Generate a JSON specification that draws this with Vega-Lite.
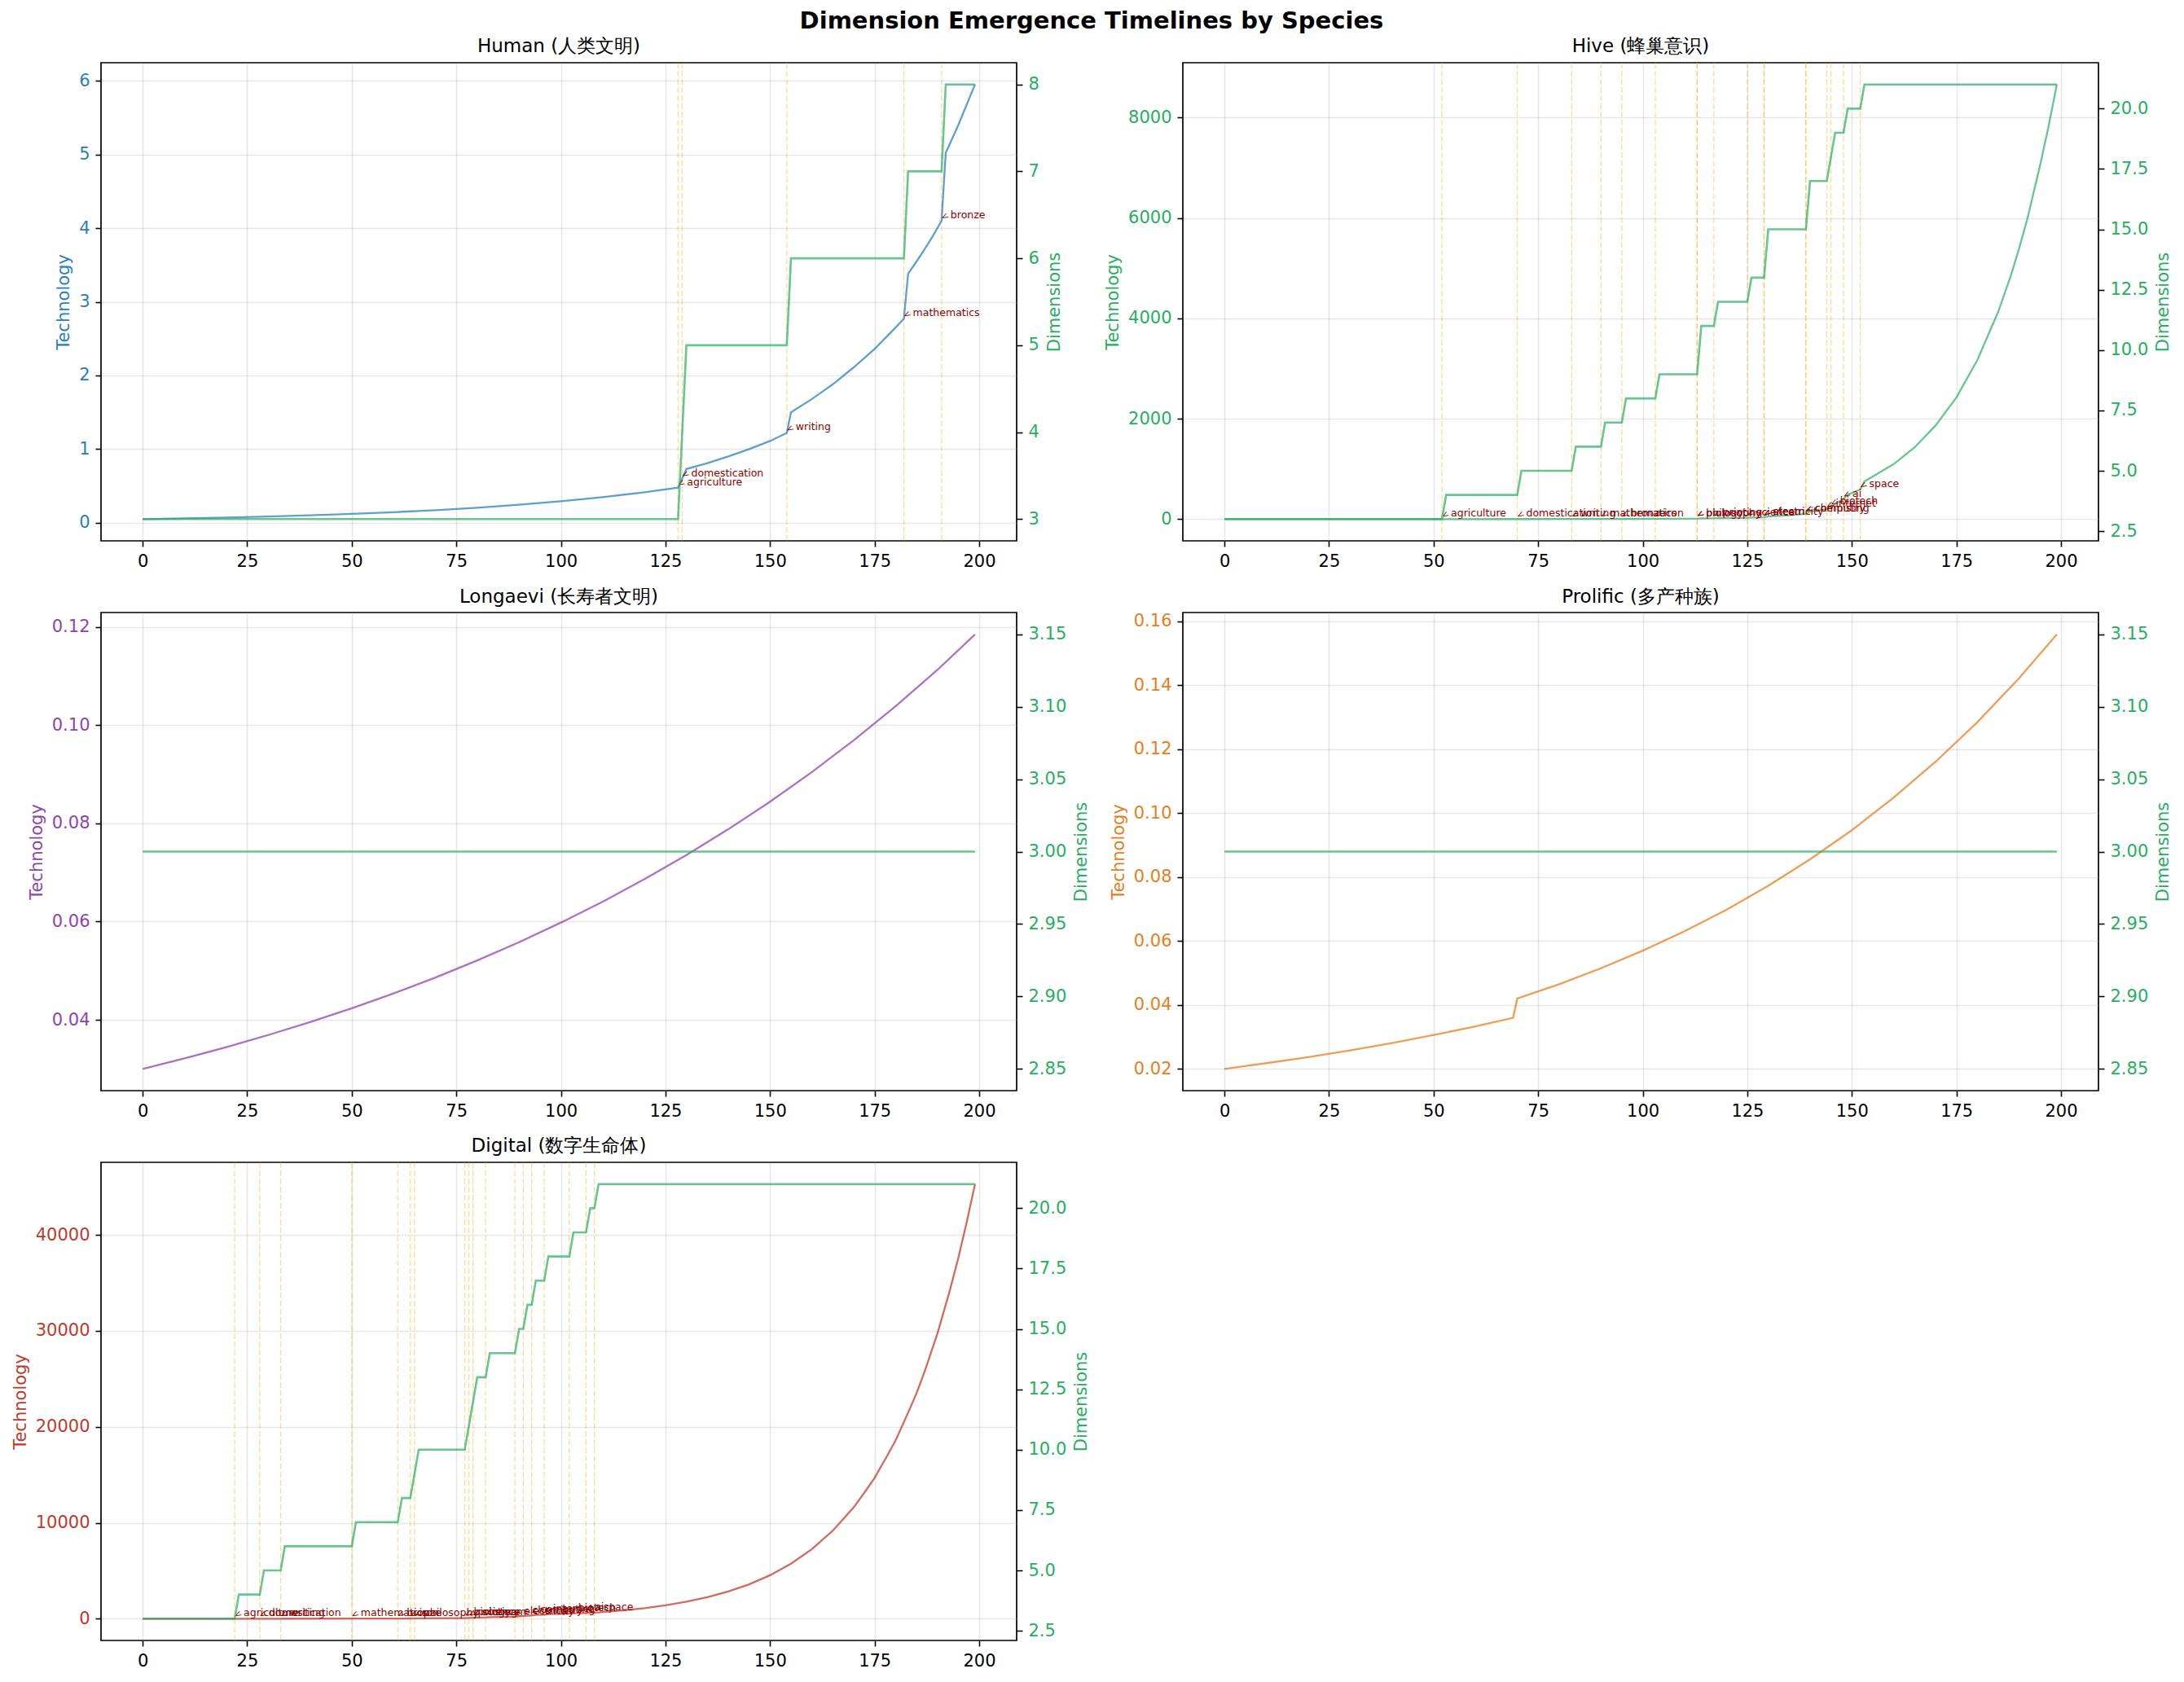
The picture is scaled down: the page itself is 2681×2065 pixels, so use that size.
{
"$schema":"https://vega.github.io/schema/vega-lite/v6.json",
"background":"white",
"padding":{"left":13,"top":11,"right":0,"bottom":0},
"title":{"text":"Dimension Emergence Timelines by Species","fontSize":29,"fontWeight":"bold","anchor":"middle","offset":5,"font":"DejaVu Sans","color":"#000"},
"config":{
 "font":"DejaVu Sans",
 "view":{"stroke":"#000","strokeWidth":1.7},
 "axis":{"labelFontSize":21,"titleFontSize":21,"titleFontWeight":"normal","tickSize":7,"tickWidth":1.6,"tickColor":"#000","labelPadding":7,"titlePadding":8,"domain":false,"gridColor":"#b0b0b0","gridOpacity":0.3,"gridWidth":1.6,"labelColor":"#000","titleColor":"#000","labelFont":"DejaVu Sans","titleFont":"DejaVu Sans","labelOverlap":false},
 "title":{"fontSize":23,"fontWeight":"normal","font":"DejaVu Sans","color":"#000","baseline":"alphabetic","offset":7}
},
"datasets":{
 "human_tech":[{"t":0,"tech":0.050},{"t":10,"tech":0.060},{"t":20,"tech":0.071},{"t":30,"tech":0.085},{"t":40,"tech":0.101},{"t":50,"tech":0.121},{"t":60,"tech":0.144},{"t":70,"tech":0.172},{"t":80,"tech":0.205},{"t":90,"tech":0.245},{"t":100,"tech":0.292},{"t":110,"tech":0.348},{"t":120,"tech":0.415},{"t":128,"tech":0.478},{"t":129,"tech":0.60},{"t":130,"tech":0.73},{"t":135,"tech":0.81},{"t":140,"tech":0.90},{"t":145,"tech":1.00},{"t":150,"tech":1.11},{"t":154,"tech":1.22},{"t":155,"tech":1.50},{"t":160,"tech":1.68},{"t":165,"tech":1.88},{"t":170,"tech":2.11},{"t":175,"tech":2.36},{"t":180,"tech":2.65},{"t":182,"tech":2.77},{"t":183,"tech":3.38},{"t":186,"tech":3.63},{"t":189,"tech":3.90},{"t":191,"tech":4.10},{"t":192,"tech":5.02},{"t":195,"tech":5.40},{"t":199,"tech":5.95}],
 "human_dims":[{"t":0,"dim":3},{"t":128,"dim":3},{"t":129,"dim":4},{"t":130,"dim":5},{"t":154,"dim":5},{"t":155,"dim":6},{"t":182,"dim":6},{"t":183,"dim":7},{"t":191,"dim":7},{"t":192,"dim":8},{"t":199,"dim":8}],
 "human_events":[{"t":128,"tech":0.478,"event":"agriculture"},{"t":129,"tech":0.60,"event":"domestication"},{"t":154,"tech":1.22,"event":"writing"},{"t":182,"tech":2.77,"event":"mathematics"},{"t":191,"tech":4.10,"event":"bronze"}],
 "hive_tech":[{"t":0,"tech":0.05},{"t":25,"tech":0.12},{"t":52,"tech":0.35},{"t":53,"tech":0.45},{"t":70,"tech":0.8},{"t":71,"tech":1.0},{"t":83,"tech":1.7},{"t":84,"tech":2.1},{"t":90,"tech":2.8},{"t":91,"tech":3.5},{"t":95,"tech":4.2},{"t":96,"tech":5.2},{"t":103,"tech":7.0},{"t":104,"tech":8.7},{"t":113,"tech":12},{"t":114,"tech":16},{"t":117,"tech":18},{"t":118,"tech":21},{"t":125,"tech":27},{"t":126,"tech":31},{"t":129,"tech":35},{"t":130,"tech":52},{"t":135,"tech":75},{"t":139,"tech":105},{"t":140,"tech":150},{"t":142,"tech":170},{"t":144,"tech":200},{"t":145,"tech":245},{"t":146,"tech":300},{"t":148,"tech":400},{"t":149,"tech":490},{"t":150,"tech":520},{"t":152,"tech":590},{"t":153,"tech":750},{"t":155,"tech":850},{"t":160,"tech":1095},{"t":165,"tech":1430},{"t":170,"tech":1865},{"t":175,"tech":2425},{"t":180,"tech":3170},{"t":185,"tech":4135},{"t":188,"tech":4850},{"t":190,"tech":5400},{"t":192,"tech":6000},{"t":195,"tech":7050},{"t":197,"tech":7820},{"t":199,"tech":8660}],
 "hive_dims":[{"t":0,"dim":3},{"t":52,"dim":3},{"t":53,"dim":4},{"t":70,"dim":4},{"t":71,"dim":5},{"t":83,"dim":5},{"t":84,"dim":6},{"t":90,"dim":6},{"t":91,"dim":7},{"t":95,"dim":7},{"t":96,"dim":8},{"t":103,"dim":8},{"t":104,"dim":9},{"t":113,"dim":9},{"t":114,"dim":11},{"t":117,"dim":11},{"t":118,"dim":12},{"t":125,"dim":12},{"t":126,"dim":13},{"t":129,"dim":13},{"t":130,"dim":15},{"t":139,"dim":15},{"t":140,"dim":17},{"t":144,"dim":17},{"t":145,"dim":18},{"t":146,"dim":19},{"t":148,"dim":19},{"t":149,"dim":20},{"t":152,"dim":20},{"t":153,"dim":21},{"t":199,"dim":21}],
 "hive_events":[{"t":52,"tech":0.35,"event":"agriculture"},{"t":70,"tech":0.8,"event":"domestication"},{"t":83,"tech":1.7,"event":"writing"},{"t":90,"tech":2.8,"event":"mathematics"},{"t":95,"tech":4.2,"event":"bronze"},{"t":103,"tech":7.0,"event":"iron"},{"t":113,"tech":12,"event":"philosophy"},{"t":113,"tech":12,"event":"biology"},{"t":117,"tech":18,"event":"printing"},{"t":125,"tech":27,"event":"science"},{"t":129,"tech":35,"event":"steam"},{"t":129,"tech":35,"event":"electricity"},{"t":139,"tech":105,"event":"chemistry"},{"t":139,"tech":105,"event":"computing"},{"t":144,"tech":200,"event":"internet"},{"t":145,"tech":245,"event":"biotech"},{"t":148,"tech":400,"event":"ai"},{"t":152,"tech":590,"event":"space"}],
 "longaevi_tech":[{"t":0,"tech":0.0300},{"t":10,"tech":0.03214},{"t":20,"tech":0.03444},{"t":30,"tech":0.03690},{"t":40,"tech":0.03953},{"t":50,"tech":0.04235},{"t":60,"tech":0.04538},{"t":70,"tech":0.04862},{"t":80,"tech":0.05209},{"t":90,"tech":0.05581},{"t":100,"tech":0.05980},{"t":110,"tech":0.06407},{"t":120,"tech":0.06864},{"t":130,"tech":0.07354},{"t":140,"tech":0.07880},{"t":150,"tech":0.08442},{"t":160,"tech":0.09045},{"t":170,"tech":0.09691},{"t":180,"tech":0.10383},{"t":190,"tech":0.11124},{"t":199,"tech":0.11846}],
 "flat_dims":[{"t":0,"dim":3},{"t":199,"dim":3}],
 "prolific_tech":[{"t":0,"tech":0.0200},{"t":10,"tech":0.0218},{"t":20,"tech":0.0237},{"t":30,"tech":0.0258},{"t":40,"tech":0.0281},{"t":50,"tech":0.0306},{"t":60,"tech":0.0333},{"t":69,"tech":0.0360},{"t":70,"tech":0.0420},{"t":80,"tech":0.0465},{"t":90,"tech":0.0515},{"t":100,"tech":0.0570},{"t":110,"tech":0.0631},{"t":120,"tech":0.0698},{"t":130,"tech":0.0773},{"t":140,"tech":0.0856},{"t":150,"tech":0.0947},{"t":160,"tech":0.1049},{"t":170,"tech":0.1161},{"t":180,"tech":0.1285},{"t":190,"tech":0.1423},{"t":199,"tech":0.1560}],
 "digital_tech":[{"t":0,"tech":0.2},{"t":22,"tech":1.0},{"t":23,"tech":1.3},{"t":28,"tech":2.0},{"t":29,"tech":2.6},{"t":33,"tech":3.3},{"t":34,"tech":4.3},{"t":50,"tech":9},{"t":51,"tech":11.5},{"t":61,"tech":19},{"t":62,"tech":24},{"t":64,"tech":27},{"t":65,"tech":34},{"t":66,"tech":43},{"t":77,"tech":70},{"t":78,"tech":85},{"t":79,"tech":105},{"t":80,"tech":125},{"t":82,"tech":140},{"t":83,"tech":170},{"t":89,"tech":215},{"t":90,"tech":260},{"t":91,"tech":270},{"t":92,"tech":325},{"t":93,"tech":335},{"t":94,"tech":400},{"t":96,"tech":420},{"t":97,"tech":490},{"t":102,"tech":520},{"t":103,"tech":575},{"t":106,"tech":595},{"t":107,"tech":620},{"t":108,"tech":630},{"t":109,"tech":660},{"t":110,"tech":692},{"t":115,"tech":875},{"t":120,"tech":1107},{"t":125,"tech":1400},{"t":130,"tech":1771},{"t":135,"tech":2240},{"t":140,"tech":2833},{"t":145,"tech":3584},{"t":150,"tech":4534},{"t":155,"tech":5735},{"t":160,"tech":7254},{"t":165,"tech":9176},{"t":170,"tech":11607},{"t":173,"tech":13420},{"t":175,"tech":14682},{"t":178,"tech":16980},{"t":180,"tech":18571},{"t":183,"tech":21470},{"t":185,"tech":23491},{"t":187,"tech":25820},{"t":190,"tech":29714},{"t":193,"tech":34250},{"t":195,"tech":37586},{"t":197,"tech":41310},{"t":199,"tech":45300}],
 "digital_dims":[{"t":0,"dim":3},{"t":22,"dim":3},{"t":23,"dim":4},{"t":28,"dim":4},{"t":29,"dim":5},{"t":33,"dim":5},{"t":34,"dim":6},{"t":50,"dim":6},{"t":51,"dim":7},{"t":61,"dim":7},{"t":62,"dim":8},{"t":64,"dim":8},{"t":65,"dim":9},{"t":66,"dim":10},{"t":77,"dim":10},{"t":78,"dim":11},{"t":79,"dim":12},{"t":80,"dim":13},{"t":82,"dim":13},{"t":83,"dim":14},{"t":89,"dim":14},{"t":90,"dim":15},{"t":91,"dim":15},{"t":92,"dim":16},{"t":93,"dim":16},{"t":94,"dim":17},{"t":96,"dim":17},{"t":97,"dim":18},{"t":102,"dim":18},{"t":103,"dim":19},{"t":106,"dim":19},{"t":107,"dim":20},{"t":108,"dim":20},{"t":109,"dim":21},{"t":199,"dim":21}],
 "digital_events":[{"t":22,"tech":1.0,"event":"agriculture"},{"t":28,"tech":2.0,"event":"domestication"},{"t":33,"tech":3.3,"event":"writing"},{"t":50,"tech":9,"event":"mathematics"},{"t":61,"tech":19,"event":"bronze"},{"t":64,"tech":27,"event":"iron"},{"t":65,"tech":34,"event":"philosophy"},{"t":77,"tech":70,"event":"biology"},{"t":78,"tech":85,"event":"printing"},{"t":79,"tech":105,"event":"science"},{"t":82,"tech":140,"event":"steam"},{"t":89,"tech":215,"event":"electricity"},{"t":91,"tech":270,"event":"chemistry"},{"t":93,"tech":335,"event":"computing"},{"t":96,"tech":420,"event":"internet"},{"t":102,"tech":520,"event":"biotech"},{"t":106,"tech":595,"event":"ai"},{"t":108,"tech":630,"event":"space"}]
},
"columns":2,
"spacing":{"row":88,"column":204},
"bounds":"flush",
"concat":[
  {"width":1124,"height":587,"title":{"text":"Human (人类文明)"},
   "layer":[
    {"data":{"name":"human_events"},"mark":{"type":"rule","color":"orange","opacity":0.4,"strokeWidth":1.3,"strokeDash":[7,3]},
     "encoding":{"x":{"field":"t","type":"quantitative","scale":{"domain":[-9.95,208.95],"nice":false,"zero":false},"axis":{"title":null,"values":[0,25,50,75,100,125,150,175,200],"format":"d","grid":true}}}},
    {"layer":[
      {"data":{"name":"human_tech"},"mark":{"type":"line","color":"#2980b9","opacity":0.75,"strokeWidth":2.3},
       "encoding":{"x":{"field":"t","type":"quantitative","scale":{"domain":[-9.95,208.95],"nice":false,"zero":false},"axis":{"title":null,"values":[0,25,50,75,100,125,150,175,200],"format":"d","grid":true}},
        "y":{"field":"tech","type":"quantitative","scale":{"domain":[-0.245,6.245],"nice":false,"zero":false},"axis":{"title":"Technology","values":[0,1,2,3,4,5,6],"format":"d","grid":true,"labelColor":"#2980b9","titleColor":"#2980b9"}}}},
      {"data":{"name":"human_events"},"mark":{"type":"text","color":"#8b0000","fontSize":12.5,"align":"left","baseline":"alphabetic","dx":11,"dy":-3},
       "encoding":{"x":{"field":"t","type":"quantitative","scale":{"domain":[-9.95,208.95],"nice":false,"zero":false},"axis":{"title":null,"values":[0,25,50,75,100,125,150,175,200],"format":"d","grid":true}},
        "y":{"field":"tech","type":"quantitative","scale":{"domain":[-0.245,6.245],"nice":false,"zero":false},"axis":{"title":"Technology","values":[0,1,2,3,4,5,6],"format":"d","grid":true,"labelColor":"#2980b9","titleColor":"#2980b9"}},
        "text":{"field":"event"}}},
      {"data":{"name":"human_events"},"mark":{"type":"text","text":"<","color":"#8b0000","fontSize":11,"align":"center","baseline":"middle","dx":6,"dy":-2,"angle":330},
       "encoding":{"x":{"field":"t","type":"quantitative","scale":{"domain":[-9.95,208.95],"nice":false,"zero":false},"axis":{"title":null,"values":[0,25,50,75,100,125,150,175,200],"format":"d","grid":true}},
        "y":{"field":"tech","type":"quantitative","scale":{"domain":[-0.245,6.245],"nice":false,"zero":false},"axis":{"title":"Technology","values":[0,1,2,3,4,5,6],"format":"d","grid":true,"labelColor":"#2980b9","titleColor":"#2980b9"}}}}
    ]},
    {"data":{"name":"human_dims"},"mark":{"type":"line","color":"#27ae60","opacity":0.7,"strokeWidth":2.6},
     "encoding":{"x":{"field":"t","type":"quantitative","scale":{"domain":[-9.95,208.95],"nice":false,"zero":false},"axis":{"title":null,"values":[0,25,50,75,100,125,150,175,200],"format":"d","grid":true}},
      "y":{"field":"dim","type":"quantitative","scale":{"domain":[2.75,8.25],"nice":false,"zero":false},"axis":{"orient":"right","title":"Dimensions","values":[3,4,5,6,7,8],"format":"d","grid":false,"labelColor":"#27ae60","titleColor":"#27ae60","titleAngle":270,"titleBaseline":"top"}}}}
   ],
   "resolve":{"scale":{"y":"independent"},"axis":{"y":"independent"}}},
  {"width":1124,"height":587,"title":{"text":"Hive (蜂巢意识)"},
   "layer":[
    {"data":{"name":"hive_events"},"mark":{"type":"rule","color":"orange","opacity":0.4,"strokeWidth":1.3,"strokeDash":[7,3]},
     "encoding":{"x":{"field":"t","type":"quantitative","scale":{"domain":[-9.95,208.95],"nice":false,"zero":false},"axis":{"title":null,"values":[0,25,50,75,100,125,150,175,200],"format":"d","grid":true}}}},
    {"layer":[
      {"data":{"name":"hive_tech"},"mark":{"type":"line","color":"#27ae60","opacity":0.7,"strokeWidth":2.3},
       "encoding":{"x":{"field":"t","type":"quantitative","scale":{"domain":[-9.95,208.95],"nice":false,"zero":false},"axis":{"title":null,"values":[0,25,50,75,100,125,150,175,200],"format":"d","grid":true}},
        "y":{"field":"tech","type":"quantitative","scale":{"domain":[-433,9093],"nice":false,"zero":false},"axis":{"title":"Technology","values":[0,2000,4000,6000,8000],"format":"d","grid":true,"labelColor":"#27ae60","titleColor":"#27ae60"}}}},
      {"data":{"name":"hive_events"},"mark":{"type":"text","color":"#8b0000","fontSize":12.5,"align":"left","baseline":"alphabetic","dx":11,"dy":-3},
       "encoding":{"x":{"field":"t","type":"quantitative","scale":{"domain":[-9.95,208.95],"nice":false,"zero":false},"axis":{"title":null,"values":[0,25,50,75,100,125,150,175,200],"format":"d","grid":true}},
        "y":{"field":"tech","type":"quantitative","scale":{"domain":[-433,9093],"nice":false,"zero":false},"axis":{"title":"Technology","values":[0,2000,4000,6000,8000],"format":"d","grid":true,"labelColor":"#27ae60","titleColor":"#27ae60"}},
        "text":{"field":"event"}}},
      {"data":{"name":"hive_events"},"mark":{"type":"text","text":"<","color":"#8b0000","fontSize":11,"align":"center","baseline":"middle","dx":6,"dy":-2,"angle":330},
       "encoding":{"x":{"field":"t","type":"quantitative","scale":{"domain":[-9.95,208.95],"nice":false,"zero":false},"axis":{"title":null,"values":[0,25,50,75,100,125,150,175,200],"format":"d","grid":true}},
        "y":{"field":"tech","type":"quantitative","scale":{"domain":[-433,9093],"nice":false,"zero":false},"axis":{"title":"Technology","values":[0,2000,4000,6000,8000],"format":"d","grid":true,"labelColor":"#27ae60","titleColor":"#27ae60"}}}}
    ]},
    {"data":{"name":"hive_dims"},"mark":{"type":"line","color":"#27ae60","opacity":0.7,"strokeWidth":2.6},
     "encoding":{"x":{"field":"t","type":"quantitative","scale":{"domain":[-9.95,208.95],"nice":false,"zero":false},"axis":{"title":null,"values":[0,25,50,75,100,125,150,175,200],"format":"d","grid":true}},
      "y":{"field":"dim","type":"quantitative","scale":{"domain":[2.1,21.9],"nice":false,"zero":false},"axis":{"orient":"right","title":"Dimensions","values":[2.5,5,7.5,10,12.5,15,17.5,20],"format":".1f","grid":false,"labelColor":"#27ae60","titleColor":"#27ae60","titleAngle":270,"titleBaseline":"top"}}}}
   ],
   "resolve":{"scale":{"y":"independent"},"axis":{"y":"independent"}}},
  {"width":1124,"height":587,"title":{"text":"Longaevi (长寿者文明)"},
   "layer":[
    {"data":{"name":"longaevi_tech"},"mark":{"type":"line","color":"#8e44ad","opacity":0.75,"strokeWidth":2.3},
     "encoding":{"x":{"field":"t","type":"quantitative","scale":{"domain":[-9.95,208.95],"nice":false,"zero":false},"axis":{"title":null,"values":[0,25,50,75,100,125,150,175,200],"format":"d","grid":true}},
      "y":{"field":"tech","type":"quantitative","scale":{"domain":[0.02558,0.12293],"nice":false,"zero":false},"axis":{"title":"Technology","values":[0.04,0.06,0.08,0.10,0.12],"format":".2f","grid":true,"labelColor":"#8e44ad","titleColor":"#8e44ad"}}}},
    {"data":{"name":"flat_dims"},"mark":{"type":"line","color":"#27ae60","opacity":0.7,"strokeWidth":2.6},
     "encoding":{"x":{"field":"t","type":"quantitative","scale":{"domain":[-9.95,208.95],"nice":false,"zero":false},"axis":{"title":null,"values":[0,25,50,75,100,125,150,175,200],"format":"d","grid":true}},
      "y":{"field":"dim","type":"quantitative","scale":{"domain":[2.835,3.165],"nice":false,"zero":false},"axis":{"orient":"right","title":"Dimensions","values":[2.85,2.9,2.95,3.0,3.05,3.1,3.15],"format":".2f","grid":false,"labelColor":"#27ae60","titleColor":"#27ae60","titleAngle":270,"titleBaseline":"top"}}}}
   ],
   "resolve":{"scale":{"y":"independent"},"axis":{"y":"independent"}}},
  {"width":1124,"height":587,"title":{"text":"Prolific (多产种族)"},
   "layer":[
    {"data":{"name":"prolific_tech"},"mark":{"type":"line","color":"#e67e22","opacity":0.75,"strokeWidth":2.3},
     "encoding":{"x":{"field":"t","type":"quantitative","scale":{"domain":[-9.95,208.95],"nice":false,"zero":false},"axis":{"title":null,"values":[0,25,50,75,100,125,150,175,200],"format":"d","grid":true}},
      "y":{"field":"tech","type":"quantitative","scale":{"domain":[0.0132,0.1628],"nice":false,"zero":false},"axis":{"title":"Technology","values":[0.02,0.04,0.06,0.08,0.10,0.12,0.14,0.16],"format":".2f","grid":true,"labelColor":"#e67e22","titleColor":"#e67e22"}}}},
    {"data":{"name":"flat_dims"},"mark":{"type":"line","color":"#27ae60","opacity":0.7,"strokeWidth":2.6},
     "encoding":{"x":{"field":"t","type":"quantitative","scale":{"domain":[-9.95,208.95],"nice":false,"zero":false},"axis":{"title":null,"values":[0,25,50,75,100,125,150,175,200],"format":"d","grid":true}},
      "y":{"field":"dim","type":"quantitative","scale":{"domain":[2.835,3.165],"nice":false,"zero":false},"axis":{"orient":"right","title":"Dimensions","values":[2.85,2.9,2.95,3.0,3.05,3.1,3.15],"format":".2f","grid":false,"labelColor":"#27ae60","titleColor":"#27ae60","titleAngle":270,"titleBaseline":"top"}}}}
   ],
   "resolve":{"scale":{"y":"independent"},"axis":{"y":"independent"}}},
  {"width":1124,"height":587,"title":{"text":"Digital (数字生命体)"},
   "layer":[
    {"data":{"name":"digital_events"},"mark":{"type":"rule","color":"orange","opacity":0.4,"strokeWidth":1.3,"strokeDash":[7,3]},
     "encoding":{"x":{"field":"t","type":"quantitative","scale":{"domain":[-9.95,208.95],"nice":false,"zero":false},"axis":{"title":null,"values":[0,25,50,75,100,125,150,175,200],"format":"d","grid":true}}}},
    {"layer":[
      {"data":{"name":"digital_tech"},"mark":{"type":"line","color":"#c0392b","opacity":0.75,"strokeWidth":2.3},
       "encoding":{"x":{"field":"t","type":"quantitative","scale":{"domain":[-9.95,208.95],"nice":false,"zero":false},"axis":{"title":null,"values":[0,25,50,75,100,125,150,175,200],"format":"d","grid":true}},
        "y":{"field":"tech","type":"quantitative","scale":{"domain":[-2265,47565],"nice":false,"zero":false},"axis":{"title":"Technology","values":[0,10000,20000,30000,40000],"format":"d","grid":true,"labelColor":"#c0392b","titleColor":"#c0392b"}}}},
      {"data":{"name":"digital_events"},"mark":{"type":"text","color":"#8b0000","fontSize":12.5,"align":"left","baseline":"alphabetic","dx":11,"dy":-3},
       "encoding":{"x":{"field":"t","type":"quantitative","scale":{"domain":[-9.95,208.95],"nice":false,"zero":false},"axis":{"title":null,"values":[0,25,50,75,100,125,150,175,200],"format":"d","grid":true}},
        "y":{"field":"tech","type":"quantitative","scale":{"domain":[-2265,47565],"nice":false,"zero":false},"axis":{"title":"Technology","values":[0,10000,20000,30000,40000],"format":"d","grid":true,"labelColor":"#c0392b","titleColor":"#c0392b"}},
        "text":{"field":"event"}}},
      {"data":{"name":"digital_events"},"mark":{"type":"text","text":"<","color":"#8b0000","fontSize":11,"align":"center","baseline":"middle","dx":6,"dy":-2,"angle":330},
       "encoding":{"x":{"field":"t","type":"quantitative","scale":{"domain":[-9.95,208.95],"nice":false,"zero":false},"axis":{"title":null,"values":[0,25,50,75,100,125,150,175,200],"format":"d","grid":true}},
        "y":{"field":"tech","type":"quantitative","scale":{"domain":[-2265,47565],"nice":false,"zero":false},"axis":{"title":"Technology","values":[0,10000,20000,30000,40000],"format":"d","grid":true,"labelColor":"#c0392b","titleColor":"#c0392b"}}}}
    ]},
    {"data":{"name":"digital_dims"},"mark":{"type":"line","color":"#27ae60","opacity":0.7,"strokeWidth":2.6},
     "encoding":{"x":{"field":"t","type":"quantitative","scale":{"domain":[-9.95,208.95],"nice":false,"zero":false},"axis":{"title":null,"values":[0,25,50,75,100,125,150,175,200],"format":"d","grid":true}},
      "y":{"field":"dim","type":"quantitative","scale":{"domain":[2.1,21.9],"nice":false,"zero":false},"axis":{"orient":"right","title":"Dimensions","values":[2.5,5,7.5,10,12.5,15,17.5,20],"format":".1f","grid":false,"labelColor":"#27ae60","titleColor":"#27ae60","titleAngle":270,"titleBaseline":"top"}}}}
   ],
   "resolve":{"scale":{"y":"independent"},"axis":{"y":"independent"}}}
]
}
